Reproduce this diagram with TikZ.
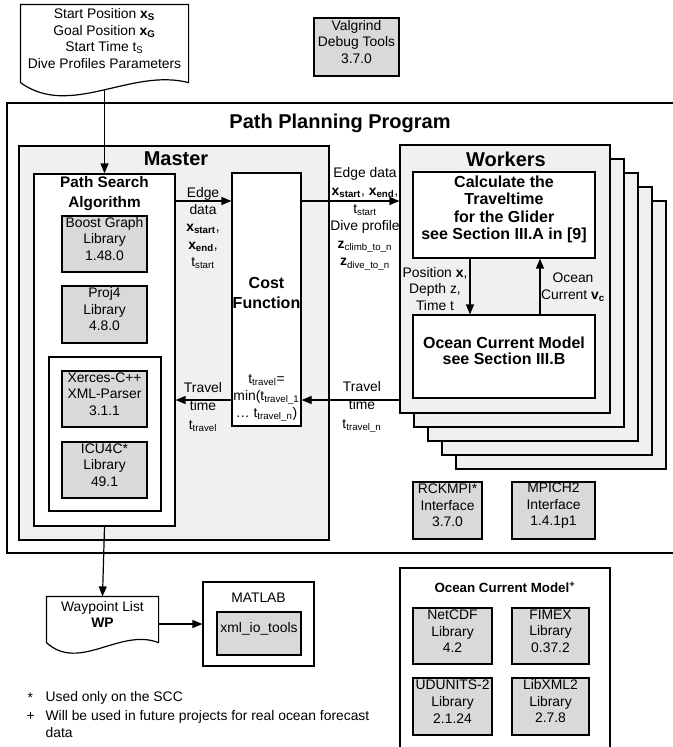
\documentclass[tikz,border=0pt]{standalone}
\usepackage{fontspec}
\setmainfont{Liberation Sans}
\usetikzlibrary{arrows.meta,fit}

\newcommand\vecsub[2]{\textbf{#1}\textsubscript{\textbf{#2}}}

\begin{document}
\begin{tikzpicture}[x=0.75pt, y=-0.75pt, line width=0.9pt,
		every node/.style={font=\fontsize{10.4}{12.4}\selectfont, align=center, inner sep=0pt},
		lib/.style={draw, fill=black!15},
		panel/.style={draw, fill=black!6},
		wbox/.style={draw, fill=white},
		arr/.style={-{Triangle[length=7.5pt,width=6pt]}},
		bigtitle/.style={font=\fontsize{15}{18}\selectfont\bfseries},
		boxtitle/.style={font=\fontsize{12}{13}\selectfont\bfseries},
		edgelbl/.style={font=\fontsize{10.4}{13}\selectfont}]
		\useasboundingbox (0,0) rectangle (673,747);

		% input document
		\node[fit={(21,5) (188,82)}] (inp) {Start Position \vecsub{x}{S}\\Goal Position \vecsub{x}{G}\\Start Time t\textsubscript{S}\\Dive Profiles Parameters};
		\draw (inp.south west) -- (inp.north west) -- (inp.north east) -- (inp.south east)
		.. controls +(-58,-15) and +(50,36) .. (inp.south west);
		\coordinate (inpB) at (104.5,89);

		\node[lib, fit={(314,18) (399,76)}] (valgrind) {Valgrind\\Debug Tools\\3.7.0};

		% path planning program
		\draw (7,103) rectangle (678,553);
		\node[bigtitle] (ppT) at (340,123) {Path Planning Program};

		% master
		\node[panel, fit={(19,146) (329,540)}] (master) {};
		\node[bigtitle] (masterT) at (176,159) {Master};
		\node[wbox, fit={(34,174) (175,526)}] (psa) {};
		\node[font=\fontsize{11.5}{15}\selectfont\bfseries] (psaT) at (104.5,194) {Path Search\\Algorithm};
		\node[lib, fit={(62,216) (147,272)}] (boost) {Boost Graph\\Library\\1.48.0};
		\node[lib, fit={(62,286) (147,343)}] (proj) {Proj4\\Library\\4.8.0};
		\node[wbox, fit={(49,357) (161,511)}] (xmlgrp) {};
		\node[lib, fit={(62,371) (147,427)}] (xerces) {Xerces-C++\\XML-Parser\\3.1.1};
		\node[lib, fit={(62,442) (147,498)}] (icu) {ICU4C*\\Library\\49.1};

		\node[wbox, fit={(232,173) (301,426)}] (cost) {};
		\node[boxtitle, font=\fontsize{12}{14.3}\selectfont\bfseries] (costT) at (266.5,293) {Cost\\Function};
		\node[font=\fontsize{10.4}{12.8}\selectfont] (costF) at (266.5,398) {t\textsubscript{travel}=\\min(t\textsubscript{travel\_1}\\\dots{} t\textsubscript{travel\_n})};

		% workers
		\foreach \i in {4,3,2,1}
		\draw[panel] (400+14*\i,145+14*\i) rectangle (610+14*\i,413+14*\i);
		\node[panel, fit={(400,145) (610,413)}] (workers) {};
		\node[bigtitle] (workersT) at (506,159) {Workers};
		\node[wbox, boxtitle, fit={(413,172) (595,258)}] (calc) {Calculate the\\Traveltime\\for the Glider\\see Section III.A in [9]};
		\node[wbox, boxtitle, font=\fontsize{12}{12.5}\selectfont\bfseries, fit={(413,315) (595,398)}] (ocm) {Ocean Current Model\\see Section III.B};

		\coordinate (downX) at (470,0);
		\coordinate (upX) at (540,0);
		\draw[arr] (calc.south -| downX) -- (ocm.north -| downX);
		\draw[arr] (ocm.north -| upX) -- (calc.south -| upX);
		\node (posL) at (435,289) {Position \textbf{x},\\Depth z,\\Time t};
		\node (curL) at (573,287) {Ocean\\Current \textbf{v}\textsubscript{\textbf{c}}};

		\node[lib, fit={(413,482) (482,539)}] (rckmpi) {RCKMPI*\\Interface\\3.7.0};
		\node[lib, fit={(512,482) (595,539)}] (mpich) {MPICH2\\Interface\\1.4.1p1};

		% connectors
		\coordinate (edgeY) at (0,201);
		\coordinate (travelY) at (0,400);
		\draw[arr] (inpB) -- (inpB |- psa.north);
		\draw[arr] (psa.east |- edgeY) -- (cost.west |- edgeY);
		\draw[arr] (cost.east |- edgeY) -- (workers.west |- edgeY);
		\draw[arr] (workers.west |- travelY) -- (cost.east |- travelY);
		\draw[arr] (cost.west |- travelY) -- (psa.east |- travelY);

		\node[edgelbl] (edgeL) at (203,228) {Edge\\data\\\vecsub{x}{start},\\\vecsub{x}{end},\\t\textsubscript{start}};
		\node[edgelbl, font=\fontsize{10.4}{13.2}\selectfont] (edgeR) at (365,219) {Edge data\\\vecsub{x}{start}, \vecsub{x}{end},\\t\textsubscript{start}\\Dive profile\\\textbf{z}\textsubscript{climb\_to\_n}\\\textbf{z}\textsubscript{dive\_to\_n}};
		\node[edgelbl, font=\fontsize{10.4}{13.8}\selectfont] (travelL) at (203,407) {Travel\\time\\t\textsubscript{travel}};
		\node[edgelbl, font=\fontsize{10.4}{13.8}\selectfont] (travelR) at (362,407) {Travel\\time\\t\textsubscript{travel\_n}};

		% output
		\node[fit={(47,597) (158,642)}] (wp) {Waypoint List\\\textbf{WP}};
		\draw (wp.south west) -- (wp.north west) -- (wp.north east) -- (wp.south east)
		.. controls +(-39,-15) and +(33,30) .. (wp.south west);
		\draw[arr] (psa.south) -- (wp.north);

		\node[wbox, fit={(203,582) (314,666)}] (matlab) {};
		\node (matlabT) at (258.5,598) {MATLAB};
		\node[lib, fit={(217,612) (301,655)}] (xmlio) {xml\_io\_tools};
		\draw[arr] (wp.east |- matlab.west) -- (matlab.west);

		% footnotes
		\node[anchor=west] (fn1m) at (27,698) {*};
		\node[anchor=west] (fn1) at (45,698) {Used only on the SCC};
		\node[anchor=west] (fn2m) at (26,716) {+};
		\node[anchor=west, align=left] (fn2) at (45,724) {Will be used in future projects for real ocean forecast\\data};

		% ocean current model libraries
		\node[wbox, fit={(400,568) (610,760)}] (ocmLib) {};
		\node[font=\fontsize{10}{12}\selectfont\bfseries] (ocmLibT) at (505,587) {Ocean Current Model\textsuperscript{+}};
		\node[lib, fit={(413,608) (492,664)}] (netcdf) {NetCDF\\Library\\4.2};
		\node[lib, fit={(512,608) (589,664)}] (fimex) {FIMEX\\Library\\0.37.2};
		\node[lib, fit={(413,678) (492,735)}] (udunits) {UDUNITS-2\\Library\\2.1.24};
		\node[lib, fit={(512,678) (589,735)}] (libxml) {LibXML2\\Library\\2.7.8};
	\end{tikzpicture}
\end{document}
